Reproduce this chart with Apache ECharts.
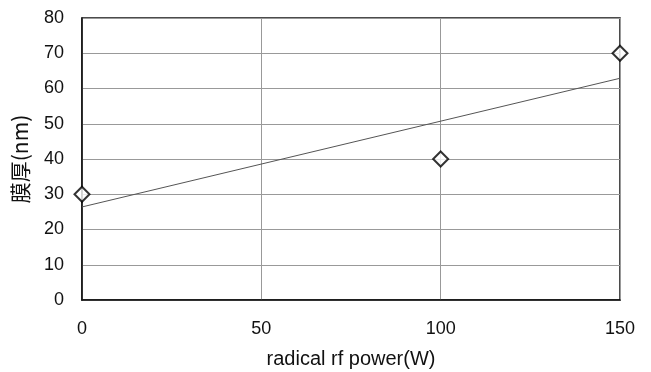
<!DOCTYPE html>
<html>
<head>
<meta charset="utf-8">
<script src="https://cdn.jsdelivr.net/npm/echarts@6/dist/echarts.min.js"></script>
<style>html,body{margin:0;padding:0;background:#fff;}#c{width:651px;height:372px;}</style>
</head>
<body>
<div id="c"></div>
<script>
var powerW = [0, 100, 150];
var thicknessNm = [30, 40, 70];
var trendX = [0, 150];
var trendY = [26.4, 62.9];
var xTicks = [0, 50, 100, 150];
var yTicks = [0, 10, 20, 30, 40, 50, 60, 70, 80];

var pts = powerW.map(function (x, i) { return [x, thicknessNm[i]]; });
var trend = trendX.map(function (x, i) { return [x, trendY[i]]; });

var chart = echarts.init(document.getElementById('c'), null, {renderer: 'canvas'});
var font = '"Liberation Sans", Arial, sans-serif';
chart.setOption({
  animation: false,
  backgroundColor: '#fff',
  grid: {left: 82, right: 31, top: 18, bottom: 72, containLabel: false, outerBoundsMode: 'none',
         show: true, borderColor: '#111', borderWidth: 1.5, backgroundColor: 'transparent'},
  xAxis: {
    type: 'value', min: xTicks[0], max: xTicks[xTicks.length - 1], interval: 50,
    name: 'radical rf power(W)', nameLocation: 'middle', nameGap: 49,
    nameTextStyle: {fontFamily: font, fontSize: 20, color: '#111'},
    axisLine: {show: true, lineStyle: {color: '#111', width: 1.5}},
    axisTick: {show: false},
    axisLabel: {fontFamily: font, fontSize: 18, color: '#111', margin: 20},
    splitLine: {show: true, lineStyle: {color: '#999', width: 1}}
  },
  yAxis: {
    type: 'value', min: yTicks[0], max: yTicks[yTicks.length - 1], interval: 10,
    name: '膜厚(nm)', nameLocation: 'middle', nameGap: 51, nameRotate: 90,
    nameTextStyle: {fontFamily: '"Noto Sans CJK JP", sans-serif', fontSize: 21, color: '#111'},
    axisLine: {show: true, lineStyle: {color: '#111', width: 1.5}},
    axisTick: {show: false},
    axisLabel: {fontFamily: font, fontSize: 18, color: '#111', margin: 18},
    splitLine: {show: true, lineStyle: {color: '#999', width: 1}}
  },
  series: [
    {
      type: 'line', data: trend, showSymbol: false, symbol: 'none',
      lineStyle: {color: '#555', width: 1}, silent: true, z: 2
    },
    {
      type: 'scatter', data: pts, symbol: 'diamond', symbolSize: [15, 15],
      itemStyle: {color: '#fff', borderColor: '#000', borderWidth: 2}, z: 5
    }
  ]
});
</script>
</body>
</html>
